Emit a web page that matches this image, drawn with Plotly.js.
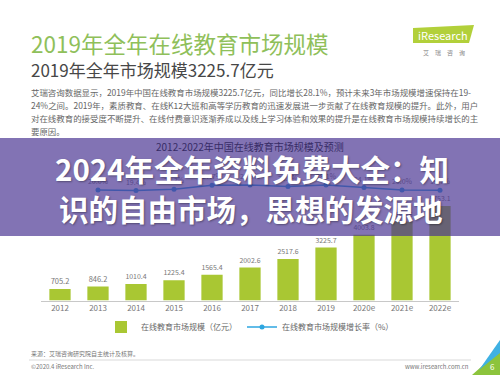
<!DOCTYPE html>
<html><head><meta charset="utf-8">
<script src="https://cdn.plot.ly/plotly-3.0.1.min.js"></script>
<style>html,body{margin:0;padding:0;background:#fff;} #chart{width:500px;height:375px;}</style>
</head><body><div id="chart"></div>
<script>
// ---- data ----
const years = ["2012","2013","2014","2015","2016","2017","2018","2019","2020e","2021e","2022e"];
const marketSize = [705.2, 846.2, 1010.4, 1225.4, 1565.4, 2002.6, 2517.6, 3225.7, 4003.8, 4804.6, 5753.1];
const rateYears = ["2013","2014","2015","2016","2017","2018","2019","2020e","2021e","2022e"];
const growthRate = [20.0, 19.4, 21.3, 27.7, 27.9, 25.7, 28.1, 24.1, 20.0, 19.7];
const barName = "在线教育市场规模（亿元）";
const lineName = "在线教育市场规模增长率（%）";
const mainTitle = "2019年全年在线教育市场规模";
const subTitle = "2019年全年市场规模3225.7亿元";
const paragraph = [
  "艾瑞咨询数据显示，2019年中国在线教育市场规模3225.7亿元，同比增长28.1%，预计未来3年市场规模增速保持在19-",
  "24%之间。2019年，素质教育、在线K12大班和高等学历教育的迅速发展进一步贡献了在线教育规模的提升。此外，用户",
  "对在线教育的接受度不断提升、在线付费意识逐渐养成以及线上学习体验和效果的提升是在线教育市场规模持续增长的主",
  "要原因。"
];
const chartTitle = "2012-2022年中国在线教育市场规模及预测";
const overlayLines = ["2024年全年资料免费大全：知", "识的自由市场，思想的发源地"];
const sourceText = "来源：艾瑞咨询研究院自主统计及核算。";
const copyText = "©2020.4 iResearch Inc.";
const urlText = "www.iresearch.com.cn";

// ---- helpers (pixel -> paper) ----
const W = 500, H = 375;
const X = x => x / W, Y = y => 1 - y / H;
const path = pts => 'M' + pts.map(p => X(p[0]).toFixed(4) + ',' + Y(p[1]).toFixed(4)).join(' L') + ' Z';
const F = "'Noto Sans CJK SC', 'Noto Sans', sans-serif";

const traces = [
  {
    type: 'bar', x: years, y: marketSize, name: barName,
    marker: {color: '#a9c733'}, width: 0.56,
    text: marketSize.map(v => v.toFixed(1)), textposition: 'outside', cliponaxis: false,
    textfont: {size: 7.5, color: '#777', family: F}, hoverinfo: 'skip'
  },
  {
    type: 'scatter', x: rateYears, y: growthRate, yaxis: 'y2', name: lineName,
    mode: 'lines+markers+text', line: {color: '#2ea6e0', width: 1.5},
    marker: {color: '#2ea6e0', size: 5},
    text: growthRate.map(v => v.toFixed(1) + '%'), textposition: 'top center', cliponaxis: false,
    textfont: {size: 7, color: '#777', family: F}, hoverinfo: 'skip'
  }
];

const ann = [];
function A(text, x, y, size, color, anchor, extra) {
  ann.push(Object.assign({text, x: X(x), y: Y(y), xref: 'paper', yref: 'paper', showarrow: false,
    xanchor: anchor || 'left', yanchor: 'middle', font: {family: F, size, color}}, extra || {}));
}
A(mainTitle, 29, 43, 22.5, '#8fc05a');
A(subTitle, 29, 70, 17, '#474747');
paragraph.forEach((t, i) => A(t, 29, 92 + i * 13, 8.45, '#666'));
A(chartTitle, 250, 146, 10, '#372c66', 'center');
A('<b>' + overlayLines[0] + '</b>', 252, 168, 29.5, '#ffffff', 'center');
A('<b>' + overlayLines[1] + '</b>', 251, 208, 29.5, '#ffffff', 'center');
ann[ann.length - 1].font.shadow = '1px 1px 2px rgba(0,0,0,0.35)';
ann[ann.length - 2].font.shadow = '1px 1px 2px rgba(0,0,0,0.35)';
A(sourceText, 29, 353, 6, '#777');
A(copyText, 29, 366, 6, '#777');
A(urlText, 471, 366, 6, '#777', 'right');
A('iResearch', 443, 35, 11, '#ffffff', 'center');
A('艾　瑞　咨　询', 444, 53, 6, '#888', 'center');
A('6', 492, 366, 8, '#ffffff', 'center');

const shapes = [
  {type: 'path', xref: 'paper', yref: 'paper', path: path([[413,28],[474,25],[469,43],[413,43]]),
   fillcolor: '#b2d03a', line: {width: 0}, layer: 'below'},
  {type: 'rect', xref: 'paper', yref: 'paper', x0: 0, x1: 1, y0: Y(236), y1: Y(138),
   fillcolor: 'rgb(74,52,146)', opacity: 0.69, line: {width: 0}, layer: 'above'},
  {type: 'line', xref: 'paper', yref: 'paper', x0: X(29), x1: X(471), y0: Y(360), y1: Y(360),
   line: {color: '#cfcfcf', width: 0.8}},
  {type: 'path', xref: 'paper', yref: 'paper', path: path([[472,375],[500,350],[500,375]]),
   fillcolor: '#8cc43c', line: {width: 0}},
  {type: 'path', xref: 'paper', yref: 'paper', path: path([[479,370],[500,340],[500,353]]),
   fillcolor: '#3fb1e3', line: {width: 0}}
];

const layout = {
  width: W, height: H, margin: {l: 0, r: 0, t: 0, b: 0},
  paper_bgcolor: '#fff', plot_bgcolor: 'rgba(0,0,0,0)',
  font: {family: F},
  showlegend: true,
  legend: {orientation: 'h', x: 0.5, xanchor: 'center', y: Y(327), yanchor: 'middle',
    font: {size: 8, color: '#666', family: F}, bgcolor: 'rgba(0,0,0,0)', itemwidth: 30},
  xaxis: {type: 'category', domain: [X(41), X(459)], range: [-0.5, 10.5], showline: true,
    linecolor: '#c8c8c8', linewidth: 1, ticks: '', showgrid: false, zeroline: false,
    tickfont: {size: 8, color: '#777', family: F}, fixedrange: true},
  yaxis: {domain: [Y(300.5), Y(135)], range: [0, 10067], visible: false, showgrid: false, zeroline: false},
  yaxis2: {overlaying: 'y', range: [-156.8, 108], visible: false, showgrid: false, zeroline: false},
  annotations: ann,
  shapes: shapes
};

Plotly.newPlot('chart', traces, layout, {staticPlot: true, displayModeBar: false});
</script></body></html>
